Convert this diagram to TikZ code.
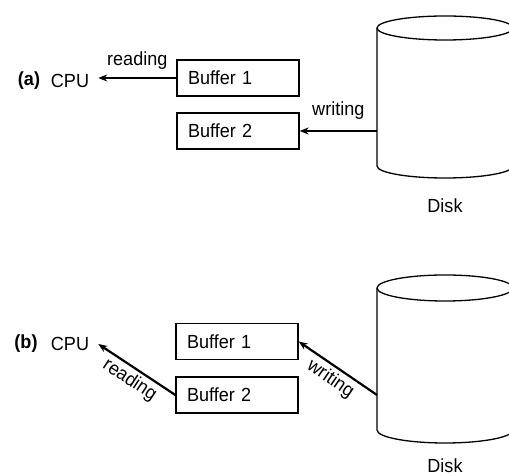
\documentclass[tikz,border=0pt]{standalone}
\usepackage{fontspec}
\setmainfont[FakeStretch=0.95]{Liberation Sans}
\usetikzlibrary{arrows.meta, positioning}

\begin{document}
\begin{tikzpicture}[x=1pt, y=1pt,
    buf/.style={rectangle, draw, line width=1.3pt, minimum height=36pt,
                inner xsep=11pt, inner ysep=0pt, text width=100pt, align=left,
                font=\fontsize{19}{22}\selectfont},
    lbl/.style={font=\fontsize{19}{22}\selectfont, inner sep=2pt},
    tag/.style={font=\fontsize{19}{22}\selectfont\bfseries, inner sep=2pt},
    cpu/.style={lbl, inner xsep=9pt},
    arr/.style={-{Stealth[length=9pt, width=7pt]}, line width=2.2pt},
    disk/.style={line width=1.3pt}
]
    \useasboundingbox (0,0) rectangle (509,476);

    % (a)
    \node[tag] (taga)  at (29,395)  {(a)};
    \node[cpu] (cpua)  at (70,395)  {CPU};
    \node[buf] (buf1a) at (238,398) {Buffer 1};
    \node[buf] (buf2a) at (238,345) {Buffer 2};
    \draw[disk] (445,448) ellipse [x radius=68, y radius=12];
    \draw[disk] (377,448) -- (377,310) arc [start angle=180, end angle=360, x radius=68, y radius=12] -- (513,448);
    \node[lbl] (diska) at (445,270.5) {Disk};
    \coordinate (wa) at (377,345);
    \draw[arr] (buf1a.west) -- (buf1a.west -| cpua.east) node[lbl, midway, above=5pt] {reading};
    \draw[arr] (wa) -- (buf2a.east) node[lbl, midway, above=8pt] {writing};

    % (b)
    \node[tag] (tagb)  at (26,132)   {(b)};
    \node[cpu] (cpub)  at (70,132)   {CPU};
    \node[buf] (buf1b) at (237,134.5) {Buffer 1};
    \node[buf] (buf2b) at (237,81)   {Buffer 2};
    \draw[disk] (445,188) ellipse [x radius=68, y radius=13];
    \draw[disk] (377,188) -- (377,46) arc [start angle=180, end angle=360, x radius=68, y radius=13] -- (513,188);
    \node[lbl] (diskb) at (445,10.5) {Disk};
    \coordinate (wb) at (377,81);
    \draw[arr] (buf2b.west) -- (cpub.east) node[lbl, midway, below=1pt, sloped] {reading};
    \draw[arr] (wb) -- (buf1b.east) node[lbl, midway, below=1pt, sloped] {writing};
\end{tikzpicture}
\end{document}
